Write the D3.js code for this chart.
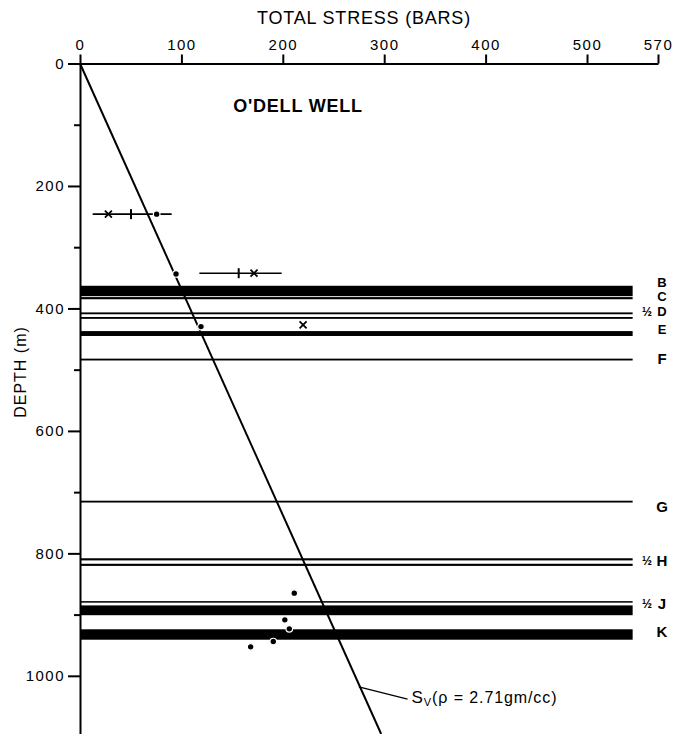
<!DOCTYPE html>
<html>
<head>
<meta charset="utf-8">
<script src="https://cdn.jsdelivr.net/npm/d3@7"></script>
<style>
body { margin: 0; background: #fff; }
text { font-family: "Liberation Sans", Arial, sans-serif; fill: #000; }
</style>
</head>
<body>
<div id="chart"></div>
<script>
// axis ticks
const stressTicks = [0, 100, 200, 300, 400, 500, 570];
const depthMajor = [0, 200, 400, 600, 800, 1000];
const depthMinor = [100, 300, 500, 700, 900];

// layers drawn across the well (depth in m)
const layerTop =    [363, 381.5, 406.5, 414, 437, 482, 714, 808, 817, 878, 885, 924];
const layerBottom = [380, 385, 409.5, 417, 445, 485, 717, 811.5, 820.5, 880.5, 901, 941];
const layerEnd = 545;

const labelNames = ["B", "C", "D", "E", "F", "G", "H", "J", "K"];
const labelDepths = [357, 380, 404, 434, 482, 724, 812, 882, 928];
const halfDepths = [405.5, 812, 882];

// range bars
const rangeDepth = [246, 342.5];
const rangeMin = [12.5, 117.7];
const rangeMax = [90.4, 198.9];
const rangeTick = [50.3, 156.5];

// crosses
const crossStress = [28, 171.6, 220];
const crossDepth = [246, 342.5, 427];

// dots
const dotStress = [75.6, 94.7, 119.3, 211.3, 202, 206.4, 190.6, 168.3];
const dotDepth = [246, 343.7, 429.7, 865, 908.6, 923.3, 944, 952.7];

// overburden line Sv, rho = 2.71 gm/cc
const svDepth = [0, 1095];
const svStress = [0, 297];

function WellChart(id) {
	this.id = id;
	this.width = 673;
	this.height = 734;
}

WellChart.prototype = {
	constructor: WellChart,

	init: function() {
		let self = this;

		self.svg = d3.select(self.id).append("svg")
			.attr("width", self.width)
			.attr("height", self.height);

		let x = d3.scaleLinear().domain([0, 570]).range([80, 658]),
			y = d3.scaleLinear().domain([0, 1095]).range([63.5, 734]);

		let g = self.svg.append("g");

		// layers
		g.selectAll(".layer")
			.data(layerTop)
			.enter().append("rect")
			.attr("class", "layer")
			.attr("x", x(0))
			.attr("width", x(layerEnd) - x(0))
			.attr("y", function(d) { return y(d); })
			.attr("height", function(d, i) { return y(layerBottom[i]) - y(d); })
			.attr("fill", "#000");

		// axes
		g.append("g")
			.attr("transform", "translate(0," + y(0) + ")")
			.call(d3.axisTop(x).tickValues(stressTicks).tickSize(9).tickSizeOuter(0).tickPadding(5)
				.tickFormat(d3.format("d")));

		g.append("g")
			.attr("transform", "translate(" + x(0) + ",0)")
			.call(d3.axisLeft(y).tickValues(depthMajor).tickSize(12).tickSizeOuter(0).tickPadding(3)
				.tickFormat(d3.format("d")));

		g.append("g")
			.attr("transform", "translate(" + x(0) + ",0)")
			.call(d3.axisLeft(y).tickValues(depthMinor).tickSize(6).tickFormat(""))
			.select(".domain").remove();

		g.selectAll(".domain, .tick line")
			.attr("stroke", "#000")
			.attr("stroke-width", 2);
		g.selectAll(".tick text")
			.attr("font-size", 15)
			.attr("letter-spacing", 1.5)
			.attr("fill", "#000")
			.attr("font-family", "Liberation Sans, Arial, sans-serif");

		// titles
		self.svg.append("text")
			.attr("x", 364).attr("y", 24)
			.attr("text-anchor", "middle")
			.attr("font-size", 18)
			.attr("letter-spacing", 0.8)
			.text("TOTAL STRESS (BARS)");

		self.svg.append("text")
			.attr("x", 298).attr("y", 112)
			.attr("text-anchor", "middle")
			.attr("font-size", 18)
			.attr("font-weight", "bold")
			.attr("letter-spacing", 0.8)
			.text("O'DELL WELL");

		self.svg.append("text")
			.attr("transform", "translate(26,372) rotate(-90)")
			.attr("text-anchor", "middle")
			.attr("font-size", 16)
			.attr("letter-spacing", 1)
			.text("DEPTH (m)");

		// overburden line
		let line = d3.line()
			.x(function(d, i) { return x(svStress[i]); })
			.y(function(d) { return y(d); });

		g.append("path")
			.datum(svDepth)
			.attr("d", line)
			.attr("fill", "none")
			.attr("stroke", "#000")
			.attr("stroke-width", 2);

		// Sv label with leader
		g.append("line")
			.attr("x1", x(275)).attr("y1", y(1018))
			.attr("x2", x(323)).attr("y2", y(1038))
			.attr("stroke", "#000").attr("stroke-width", 1.3);

		let sv = g.append("text")
			.attr("x", x(327)).attr("y", y(1045))
			.attr("font-size", 16)
			.attr("letter-spacing", 0.9);
		sv.append("tspan").attr("font-size", 17).text("S");
		sv.append("tspan").attr("font-size", 11).attr("dy", 3).text("V");
		sv.append("tspan").attr("dy", -3).text("(\u03C1 = 2.71gm/cc)");

		// range bars
		g.selectAll(".range")
			.data(rangeDepth)
			.enter().append("line")
			.attr("x1", function(d, i) { return x(rangeMin[i]); })
			.attr("x2", function(d, i) { return x(rangeMax[i]); })
			.attr("y1", function(d) { return y(d); })
			.attr("y2", function(d) { return y(d); })
			.attr("stroke", "#000").attr("stroke-width", 1.6);

		g.selectAll(".rtick")
			.data(rangeDepth)
			.enter().append("line")
			.attr("x1", function(d, i) { return x(rangeTick[i]); })
			.attr("x2", function(d, i) { return x(rangeTick[i]); })
			.attr("y1", function(d) { return y(d) - 5; })
			.attr("y2", function(d) { return y(d) + 5; })
			.attr("stroke", "#000").attr("stroke-width", 2);

		g.selectAll(".cross")
			.data(crossDepth)
			.enter().append("path")
			.attr("d", function(d, i) {
				let cx = x(crossStress[i]), cy = y(d), r = 3.5;
				return "M" + (cx - r) + "," + (cy - r) + "L" + (cx + r) + "," + (cy + r) +
					"M" + (cx - r) + "," + (cy + r) + "L" + (cx + r) + "," + (cy - r);
			})
			.attr("stroke", "#000").attr("stroke-width", 1.8);

		g.selectAll(".dot")
			.data(dotDepth)
			.enter().append("circle")
			.attr("cx", function(d, i) { return x(dotStress[i]); })
			.attr("cy", function(d) { return y(d); })
			.attr("r", 3.3)
			.attr("fill", "#000")
			.attr("stroke", "#fff")
			.attr("stroke-width", 1.2);

		// layer labels (the stacked ones a little smaller)
		g.selectAll(".lab")
			.data(labelNames)
			.enter().append("text")
			.attr("x", 662)
			.attr("y", function(d, i) { return y(labelDepths[i]); })
			.attr("dy", "0.36em")
			.attr("text-anchor", "middle")
			.attr("font-size", function(d, i) { return i < 4 ? 13 : 15; })
			.attr("font-weight", "bold")
			.text(function(d) { return d; });

		g.selectAll(".half")
			.data(halfDepths)
			.enter().append("text")
			.attr("x", 647)
			.attr("y", function(d) { return y(d); })
			.attr("dy", "0.36em")
			.attr("text-anchor", "middle")
			.attr("font-size", 12)
			.attr("font-weight", "bold")
			.text("\u00BD");
	}
}

let chart = new WellChart("#chart");
chart.init();
</script>
</body>
</html>
